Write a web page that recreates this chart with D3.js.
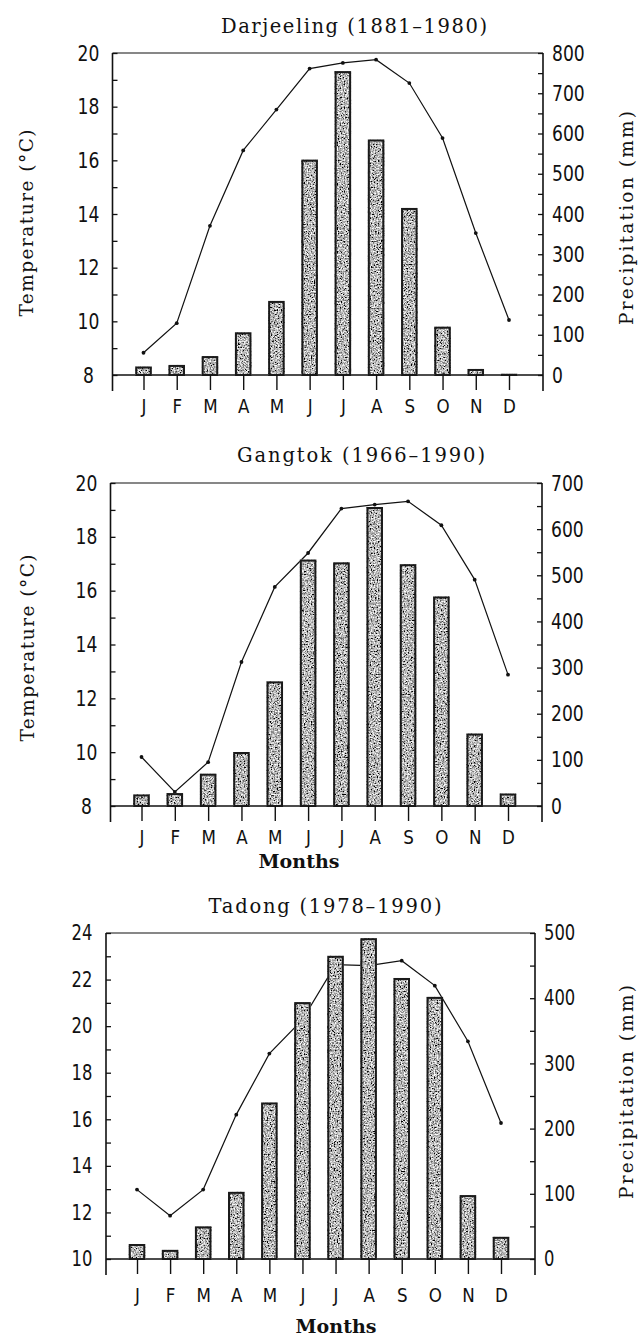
<!DOCTYPE html>
<html>
<head>
<meta charset="utf-8">
<script src="https://cdn.jsdelivr.net/npm/d3@7"></script>
<style>
  html, body { margin: 0; padding: 0; background: #fff; }
  svg { display: block; }
</style>
</head>
<body>
<svg id="chart" width="641" height="1339"></svg>
<script>
// ---------------- DATA ----------------
const months = ["J", "F", "M", "A", "M", "J", "J", "A", "S", "O", "N", "D"];

const darjeelingTitle = "Darjeeling (1881–1980)";
const darjeelingPrecip = [21, 25, 47, 106, 184, 535, 755, 585, 415, 120, 15, 3];
const darjeelingTemp = [8.83, 9.93, 13.56, 16.37, 17.89, 19.42, 19.63, 19.75, 18.88, 16.83, 13.29, 10.05];
const darjeelingTempTicks = [8, 10, 12, 14, 16, 18, 20];
const darjeelingPrecipTicks = [0, 100, 200, 300, 400, 500, 600, 700, 800];

const gangtokTitle = "Gangtok (1966–1990)";
const gangtokPrecip = [25, 28, 70, 117, 270, 534, 528, 648, 524, 454, 157, 27];
const gangtokTemp = [9.82, 8.52, 9.63, 13.35, 16.14, 17.40, 19.05, 19.20, 19.32, 18.43, 16.41, 12.88];
const gangtokTempTicks = [8, 10, 12, 14, 16, 18, 20];
const gangtokPrecipTicks = [0, 100, 200, 300, 400, 500, 600, 700];

const tadongTitle = "Tadong (1978–1990)";
const tadongPrecip = [23, 14, 50, 103, 240, 394, 465, 492, 431, 402, 98, 34];
const tadongTemp = [12.98, 11.86, 12.98, 16.20, 18.82, 20.28, 22.64, 22.60, 22.81, 21.74, 19.35, 15.84];
const tadongTempTicks = [10, 12, 14, 16, 18, 20, 22, 24];
const tadongPrecipTicks = [0, 100, 200, 300, 400, 500];

const tempLabel = "Temperature (°C)";
const precipLabel = "Precipitation (mm)";
const monthsLabel = "Months";

// ---------------- LAYOUT ----------------
const panels = [
  { title: darjeelingTitle, temp: darjeelingTemp, precip: darjeelingPrecip,
    tTicks: darjeelingTempTicks, pTicks: darjeelingPrecipTicks,
    top: 53, base: 375, left: 112.5, right: 543,
    titleX: 354, titleY: 33, titleW: 266, tickFont: 22, monthY: 413,
    tempLab: { x: 26, y: 223 }, precipLab: { x: 626, y: 218 }, monthsLab: null },
  { title: gangtokTitle, temp: gangtokTemp, precip: gangtokPrecip,
    tTicks: gangtokTempTicks, pTicks: gangtokPrecipTicks,
    top: 483, base: 806, left: 110.5, right: 542,
    titleX: 361, titleY: 462, titleW: 248, tickFont: 22, monthY: 844,
    tempLab: { x: 27, y: 648 }, precipLab: null, monthsLab: { x: 299, y: 868 } },
  { title: tadongTitle, temp: tadongTemp, precip: tadongPrecip,
    tTicks: tadongTempTicks, pTicks: tadongPrecipTicks,
    top: 933, base: 1259, left: 106, right: 535,
    titleX: 325, titleY: 913, titleW: 233, tickFont: 21, monthY: 1302,
    tempLab: null, precipLab: { x: 626, y: 1092 }, monthsLab: { x: 336, y: 1333 } }
];

const svg = d3.select("#chart");
const defs = svg.append("defs");
const filt = defs.append("filter").attr("id", "speck")
  .attr("x", 0).attr("y", 0).attr("width", 1).attr("height", 1);
filt.append("feTurbulence").attr("type", "fractalNoise").attr("baseFrequency", 0.7)
  .attr("numOctaves", 2).attr("seed", 5).attr("result", "noise");
filt.append("feColorMatrix").attr("in", "noise").attr("type", "matrix")
  .attr("values", "2.2 0 0 0 -0.62  2.2 0 0 0 -0.62  2.2 0 0 0 -0.62  0 0 0 0 1")
  .attr("result", "gray");
filt.append("feComposite").attr("in", "gray").attr("in2", "SourceGraphic").attr("operator", "in");

const tickFontFamily = "'Liberation Sans Narrow', 'DejaVu Sans', sans-serif";
const squeeze = 0.78;
const serifFamily = "'DejaVu Serif', 'Liberation Serif', serif";

panels.forEach(p => {
  const g = svg.append("g");
  const tMin = d3.min(p.tTicks), tMax = d3.max(p.tTicks);
  const pMax = d3.max(p.pTicks);

  const x = d3.scaleLinear().domain([1, 12]).range([p.left + 31, p.right - 34]);
  const yT = d3.scaleLinear().domain([tMin, tMax]).range([p.base, p.top]);
  const yP = d3.scaleLinear().domain([0, pMax]).range([p.base, p.top]);
  const idx = d3.range(1, 13);
  const barW = 16.5;

  // title
  g.append("text").attr("x", p.titleX).attr("y", p.titleY)
    .attr("text-anchor", "middle").attr("font-family", serifFamily)
    .attr("font-size", 19.5).attr("fill", "#111")
    .attr("textLength", p.titleW).attr("lengthAdjust", "spacing").text(p.title);

  // frame top line
  g.append("line").attr("x1", p.left).attr("x2", p.right)
    .attr("y1", p.top).attr("y2", p.top).attr("stroke", "#111").attr("stroke-width", 1.2);
  // baseline
  g.append("line").attr("x1", p.left).attr("x2", p.right)
    .attr("y1", p.base).attr("y2", p.base).attr("stroke", "#111").attr("stroke-width", 1.4);

  // temperature line (behind bars)
  const line = d3.line().x((d, i) => x(i + 1)).y(d => yT(d));
  g.append("path").datum(p.temp).attr("d", line)
    .attr("fill", "none").attr("stroke", "#111").attr("stroke-width", 1.2);
  g.selectAll("circle.pt").data(p.temp).join("circle").attr("class", "pt")
    .attr("cx", (d, i) => x(i + 1)).attr("cy", d => yT(d)).attr("r", 1.9).attr("fill", "#111");

  // precipitation bars
  const bars = g.selectAll("g.bar").data(p.precip).join("g").attr("class", "bar");
  bars.append("rect")
    .attr("x", (d, i) => x(i + 1) - barW / 2).attr("width", barW)
    .attr("y", d => yP(d)).attr("height", d => p.base - yP(d))
    .attr("fill", "#000").attr("filter", "url(#speck)");
  bars.append("rect")
    .attr("x", (d, i) => x(i + 1) - barW / 2 + 1).attr("width", barW - 2)
    .attr("y", d => yP(d) + 1).attr("height", d => Math.max(0, p.base - yP(d) - 1))
    .attr("fill", "none").attr("stroke", "#1a1a1a").attr("stroke-width", 2);

  // left axis (temperature)
  const leftAxis = d3.axisLeft(yT)
    .tickValues(d3.range(tMin, tMax + 0.001, 1))
    .tickSize(-5).tickPadding(0)
    .tickFormat(d => p.tTicks.includes(d) ? d3.format("d")(d) : "");
  const la = g.append("g").attr("transform", `translate(${p.left},0)`).call(leftAxis);
  la.select(".domain").remove();
  la.selectAll(".tick line").attr("stroke", "#111").attr("stroke-width", 1.3);
  la.selectAll(".tick text").attr("x", -24 / squeeze).attr("text-anchor", "middle")
    .attr("transform", `scale(${squeeze},1)`)
    .attr("font-family", tickFontFamily).attr("font-size", p.tickFont).attr("fill", "#111");
  g.append("line").attr("x1", p.left).attr("x2", p.left)
    .attr("y1", p.top).attr("y2", p.base + 16).attr("stroke", "#111").attr("stroke-width", 1.6);

  // right axis (precipitation)
  const rightAxis = d3.axisRight(yP)
    .tickValues(d3.range(0, pMax + 0.001, 50))
    .tickSize(-5).tickPadding(0)
    .tickFormat(d => p.pTicks.includes(d) ? d3.format("d")(d) : "");
  const ra = g.append("g").attr("transform", `translate(${p.right},0)`).call(rightAxis);
  ra.select(".domain").remove();
  ra.selectAll(".tick line").attr("stroke", "#111").attr("stroke-width", 1.3);
  ra.selectAll(".tick text").attr("x", 9 / squeeze).attr("text-anchor", "start")
    .attr("transform", `scale(${squeeze},1)`)
    .attr("font-family", tickFontFamily).attr("font-size", p.tickFont).attr("fill", "#111");
  g.append("line").attr("x1", p.right).attr("x2", p.right)
    .attr("y1", p.top).attr("y2", p.base + 16).attr("stroke", "#111").attr("stroke-width", 1.6);

  // month ticks + labels
  const bottomAxis = d3.axisBottom(x).tickValues(idx).tickSize(15).tickPadding(0)
    .tickFormat(d => months[d - 1]);
  const ba = g.append("g").attr("transform", `translate(0,${p.base})`).call(bottomAxis);
  ba.select(".domain").remove();
  ba.selectAll(".tick line").attr("stroke", "#111").attr("stroke-width", 1.4);
  ba.selectAll(".tick text").attr("y", p.monthY - p.base).attr("dy", null)
    .attr("x", 0).attr("transform", "scale(0.88,1)")
    .attr("font-family", tickFontFamily).attr("font-size", 19).attr("fill", "#111");

  // axis titles
  if (p.tempLab) {
    g.append("text").attr("transform", `translate(${p.tempLab.x + 7},${p.tempLab.y}) rotate(-90)`)
      .attr("text-anchor", "middle").attr("font-family", serifFamily)
      .attr("font-size", 18.5).attr("fill", "#111")
      .attr("textLength", 187).attr("lengthAdjust", "spacing").text(tempLabel);
  }
  if (p.precipLab) {
    g.append("text").attr("transform", `translate(${p.precipLab.x + 7},${p.precipLab.y}) rotate(-90)`)
      .attr("text-anchor", "middle").attr("font-family", serifFamily)
      .attr("font-size", 18.5).attr("fill", "#111")
      .attr("textLength", 214).attr("lengthAdjust", "spacing").text(precipLabel);
  }
  if (p.monthsLab) {
    g.append("text").attr("x", p.monthsLab.x).attr("y", p.monthsLab.y)
      .attr("text-anchor", "middle").attr("font-family", serifFamily)
      .attr("font-size", 19).attr("font-weight", "bold").attr("fill", "#111")
      .attr("textLength", 81).attr("lengthAdjust", "spacing").text(monthsLabel);
  }
});
</script>
</body>
</html>
